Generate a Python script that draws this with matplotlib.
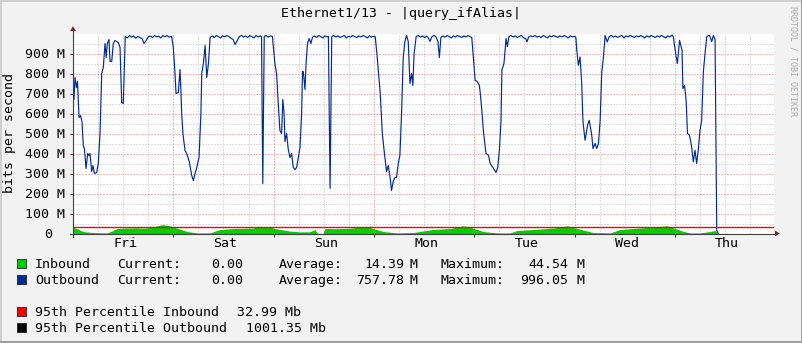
import matplotlib
matplotlib.use("Agg")
import matplotlib.pyplot as plt
from matplotlib.patches import Rectangle, Polygon
from matplotlib.transforms import ScaledTranslation, blended_transform_factory
import numpy as np

# ---------------- data ----------------
title = "Ethernet1/13 - |query_ifAlias|"
ylabel = "bits per second"
day_names = ["Fri", "Sat", "Sun", "Mon", "Tue", "Wed", "Thu"]
y_ticks = [0, 100, 200, 300, 400, 500, 600, 700, 800, 900]
y_tick_labels = ["0", "100 M", "200 M", "300 M", "400 M", "500 M", "600 M", "700 M", "800 M", "900 M"]

# outbound (Mbit/s) at hours since start of graph
out_hours = [
    0, 0.24, 0.48, 0.84, 1.08, 1.44, 1.8, 2.15, 2.46, 2.75, 3.11, 3.52, 3.83, 4.07, 4.47, 4.79, 5.1, 5.67,
    6.05, 6.46, 6.87, 7.25, 7.66, 7.94, 8.21, 8.61, 8.85, 9.26, 9.64, 10.05, 10.84, 11.25, 11.65, 12.04,
    12.5, 13, 13.5, 14, 14.5, 15, 15.5, 16, 16.5, 17, 17.5, 18, 18.5, 19, 19.5, 20, 20.5, 21, 21.5, 22,
    22.5, 23, 23.6,
    24.0, 24.4, 24.65, 25.2, 25.6, 25.84, 26.0, 26.3, 26.8, 27.2, 27.8, 28.4, 28.8, 29.2, 29.6, 30.15,
    30.6, 30.8, 31.2, 31.6, 32.0, 32.4, 32.8,
    33.3, 33.8, 34.3, 34.8, 35.3, 35.8, 36.3, 36.8, 37.3, 37.8, 38.3, 38.8, 39.3, 39.8, 40.3, 40.8, 41.3,
    41.8, 42.3, 42.8, 43.3, 43.8, 44.3, 44.8, 45.1, 45.4, 45.75, 46.2, 46.7, 47.2, 47.7,
    48.3, 48.7, 49.1, 49.5, 49.9, 50.2, 50.5, 50.7, 51.1, 51.5, 51.9, 52.3, 52.7, 53.1, 53.5, 53.9, 54.3,
    54.7, 54.9, 55.1, 55.5, 55.75, 56.1, 56.5, 56.9,
    57.3, 57.8, 58.3, 58.8, 59.3, 59.8, 60.3, 60.8, 61.1, 61.5, 61.9,
    62.4, 62.9, 63.4, 63.9, 64.4, 64.9, 65.4, 65.9, 66.4, 66.9, 67.4, 67.9, 68.4, 68.9, 69.4, 69.9, 70.4,
    70.9, 71.4, 71.9, 72.3,
    72.7, 73.5, 73.7, 74.0, 74.4, 75.0, 75.4, 75.8, 76.2, 76.6, 77.0, 77.4, 77.8, 78.2, 78.6, 79.0, 79.4,
    79.8, 80.2, 80.6, 81.0, 81.3, 81.6, 82.1,
    82.6, 83.1, 83.6, 84.1, 84.6, 85.1, 85.4, 85.8, 86.3, 86.8, 87.3, 87.65, 88.0, 88.5, 89, 89.5, 90,
    90.5, 91, 91.5, 92, 92.5, 93, 93.5, 94, 94.5, 95, 95.4,
    96.2, 96.7, 97.2, 97.4, 97.8, 98.2, 98.8, 99.4, 99.8, 100.6, 101.2, 101.6, 102.0, 102.4, 102.6, 103.1,
    103.6, 103.9, 104.3,
    104.8, 105.3, 105.8, 106.3, 106.8, 107.3, 107.8, 108.3, 108.6, 109.0, 109.5, 110, 110.5, 111, 111.5,
    112, 112.5, 113, 113.5, 114, 114.5, 115, 115.5, 116, 116.5, 117, 117.5, 118, 118.5, 119, 119.5, 120.0,
    120.3,
    120.5, 120.9, 121.3, 121.7, 122.0, 122.5, 123.1, 123.5, 124.1, 124.4, 124.9, 125.3, 125.7, 126.1,
    126.5, 126.9, 127.3, 127.8, 128.3,
    128.8, 129.3, 129.8, 130.3, 130.8, 131.3, 131.8, 132.3, 132.8, 133.3, 133.8, 134.3, 134.8, 135.3,
    135.8, 136.3, 136.8, 137.3, 137.8, 138.3, 138.8, 139.3, 139.8, 140.3, 140.8, 141.3, 141.8, 142.3,
    142.8, 143.3, 143.6,
    144.3, 144.6, 145.1, 145.7, 145.9, 146.3, 146.7, 147.0, 147.5, 148.0, 148.4, 148.8, 149.2, 149.6,
    150.0, 150.4, 150.8, 151.2, 151.6, 152.0, 152.3, 152.8, 153.2, 153.6, 154.0, 154.4,
]
out_mbps = [
    790, 670, 780, 730, 760, 580, 590, 560, 440, 420, 325, 400, 390, 400, 310, 340, 300, 305,
    350, 500, 800, 830, 950, 880, 950, 970, 860, 860, 950, 965, 955, 930, 655, 650,
    985, 978, 990, 982, 988, 976, 986, 980, 975, 950, 965, 984, 987, 980, 990, 983, 986, 978, 989, 984,
    990, 982, 985,
    930, 800, 700, 705, 820, 700, 600, 500, 415, 400, 360, 290, 265, 300, 330, 380,
    600, 800, 850, 940, 780, 850, 980,
    988, 980, 990, 984, 978, 988, 983, 990, 985, 976, 970, 945, 965, 985, 990, 982, 988,
    980, 990, 984, 978, 989, 983, 988, 985, 250, 985, 990, 982, 988, 985,
    850, 800, 650, 515, 500, 670, 600, 460, 500, 420, 380, 400, 330, 320, 330, 380, 430,
    600, 810, 810, 720, 850, 950, 975, 950,
    982, 988, 980, 990, 984, 978, 988, 983, 986, 225, 985,
    990, 982, 988, 980, 985, 990, 978, 986, 982, 990, 984, 980, 988, 983, 990, 985, 978,
    988, 982, 986, 984,
    900, 700, 620, 500, 420, 310, 340, 290, 215, 260, 280, 280, 350, 390, 600, 880, 960,
    990, 960, 750, 800, 740, 900, 985,
    990, 982, 988, 980, 986, 975, 960, 982, 990, 984, 960, 880, 980, 988, 982, 990, 984,
    978, 988, 982, 990, 985, 980, 988, 983, 990, 984, 980,
    766, 760, 741, 708, 616, 508, 400, 391, 350, 325, 305, 330, 416, 566, 816, 850,
    975, 935, 985,
    990, 982, 988, 980, 986, 990, 978, 975, 958, 982, 988, 984, 990, 982, 986,
    980, 990, 984, 978, 988, 983, 990, 985, 980, 988, 983, 990, 984, 978, 988, 983, 986,
    980,
    920, 841, 883, 750, 560, 466, 541, 566, 491, 425, 450, 425, 450, 560,
    808, 883, 990, 958, 985,
    990, 982, 988, 980, 986, 990, 978, 988, 983, 990, 985, 980, 988, 983,
    990, 984, 978, 988, 982, 990, 985, 980, 988, 983, 990, 984, 978, 988,
    983, 992, 985,
    883, 850, 966, 916, 725, 741, 658, 500, 491, 433, 358, 416, 350, 420,
    516, 566, 808, 900, 983, 990, 990, 960, 990, 970, 15, 0,
]

# inbound (Mbit/s) at hours since start of graph
in_hours = [
    0.1, 1.2, 2.4, 4.1, 5.7, 8.1, 9.3, 10.5, 12.4, 14.8, 17.2, 18.4, 20.1, 21.5, 23.2, 25.1, 27.3, 29.7,
    32.8, 34.0, 35.2, 38.3, 41.2, 43.1, 44.7, 45.7, 46.7, 48.3, 51.9, 54.4, 56.7, 57.9, 58.4, 59.8, 60.3,
    62.7, 66.3, 69.2, 71.1, 74.2, 77.5, 81.4, 86.1, 90.2, 93.3, 95.0, 98.1, 101.5, 104.6, 106.2, 111.7,
    115.3, 118.2, 120.1, 124.4, 128.5, 130.9, 134.0, 137.4, 142.2, 144.1, 146.1, 147.7, 150.1, 152.4,
    153.6, 154.1, 154.3,
]
in_mbps = [
    30, 22, 10, 6, 4, 3, 12, 25, 27, 28, 27, 30, 38, 44.5, 38, 25, 10, 3,
    3, 12, 20, 25, 26, 27, 35, 30, 35, 25, 12, 8, 9, 20, 2, 0, 25,
    24, 26, 35, 30, 10, 3, 5, 20, 25, 38, 32, 10, 3, 3, 15, 22,
    28, 38, 28, 5, 3, 20, 25, 30, 38, 25, 10, 3, 3, 10,
    15, 5, 0,
]

pct95_in = 32.99
pct95_out = 1001.35

legend_rows = [
    ("Inbound", "#00CF00", "0.00", "14.39", "44.54"),
    ("Outbound", "#002A97", "0.00", "757.78", "996.05"),
]
pct_rows = [
    ("95th Percentile Inbound", "#FF0000", "32.99 Mb"),
    ("95th Percentile Outbound", "#000000", "1001.35 Mb"),
]

# ---------------- layout ----------------
W, H = 803, 343
BG = "#F2F2F2"
MONO = "DejaVu Sans Mono"
FS = 9.5
hours_span = 167.7
YMAX = 1000

fig = plt.figure(figsize=(W / 100, H / 100), dpi=100, facecolor=BG)
L, R, T, B = 73, 774, 33.5, 233.5
ax = fig.add_axes([L / W, 1 - B / H, (R - L) / W, (B - T) / H])
ax.set_facecolor("white")
ax.set_xlim(0, hours_span)
ax.set_ylim(0, YMAX)
for s in ax.spines.values():
    s.set_visible(False)

# ticks
ax.set_xticks(np.arange(0, hours_span, 24))
ax.set_yticks(y_ticks)
ax.set_yticklabels(y_tick_labels, family=MONO, fontsize=FS)
ax.tick_params(axis="x", which="major", length=2.2, width=0.75, color="#404040",
               direction="out", labelbottom=False)
ax.tick_params(axis="y", which="major", length=2.2, width=0.75, color="#404040",
               direction="out", pad=3.6, labelcolor="#000000")
zero_lbl = ax.get_yticklabels()[0]
zero_lbl.set_transform(zero_lbl.get_transform() + ScaledTranslation(-0.13, 0, fig.dpi_scale_trans))

# grid: minor grey every 6 h / 50 M, major red every day / 100 M
DOT = (0, (1, 2))
GREY, RED = "#BEBEBE", "#E47C7C"
for h in np.arange(6, hours_span, 6):
    if h % 24:
        ax.axvline(h, color=GREY, linestyle=DOT, linewidth=0.72, zorder=0, snap=True)
for v in np.arange(50, YMAX, 100):
    ax.axhline(v, color=GREY, linestyle=DOT, linewidth=0.72, zorder=0, snap=True)
for h in np.arange(24, hours_span, 24):
    ax.axvline(h, color=RED, linestyle=DOT, linewidth=0.72, zorder=0, snap=True)
for v in y_ticks[1:]:
    ax.axhline(v, color=RED, linestyle=DOT, linewidth=0.72, zorder=0, snap=True)

# day labels at noon
tr = blended_transform_factory(ax.transData, ax.transAxes) + ScaledTranslation(0.02, 0, fig.dpi_scale_trans)
for i, d in enumerate(day_names):
    ax.text(12 + 24 * i, -(243.3 - B) / (B - T), d, transform=tr, ha="center", va="center",
            family=MONO, fontsize=FS, color="#000000")

# data
ax.fill_between(in_hours, 0, in_mbps, color="#00CF00", linewidth=0, zorder=2)
ax.plot(out_hours, out_mbps, color="#002A97", linewidth=0.85, zorder=3)
ax.axhline(pct95_in, color="#FF0000", linewidth=1.0, zorder=4)
if pct95_out <= YMAX:
    ax.axhline(pct95_out, color="#000000", linewidth=1.0, zorder=4)

# overlay in pixel coordinates
ov = fig.add_axes([0, 0, 1, 1])
ov.set_xlim(0, W)
ov.set_ylim(H, 0)
ov.axis("off")
ov.patch.set_alpha(0)

# axes lines + arrows
ov.plot([70, 776], [B, B], color="#404040", linewidth=0.8)
ov.plot([L, L], [B + 3, 30], color="#404040", linewidth=0.8)
ov.add_patch(Polygon([[775, B - 2.8], [775, B + 2.8], [779.8, B]], closed=True, color="#8B1A1A", lw=0))
ov.add_patch(Polygon([[L - 2.8, 31], [L + 2.8, 31], [L, 26.2]], closed=True, color="#8B1A1A", lw=0))

# frame
ov.add_patch(Rectangle((0, 0), W, 2, color="#CFCFCF", lw=0))
ov.add_patch(Rectangle((0, 0), 2, H, color="#CFCFCF", lw=0))
ov.add_patch(Rectangle((0, H - 2), W, 2, color="#9E9E9E", lw=0))
ov.add_patch(Rectangle((W - 2, 0), 2, H, color="#9E9E9E", lw=0))

# title, y label, watermark
ov.text(401, 13.3, title, ha="center", va="center", family=MONO, fontsize=FS, color="#000000")
ov.text(10, 133.3, ylabel, ha="center", va="center", rotation=90, family=MONO, fontsize=FS,
        color="#000000")
ov.text(793, 6, "RRDTOOL / TOBI OETIKER", ha="center", va="top", rotation=270, family=MONO,
        fontsize=6, color="#ABABAB")

# legend
row_base = [268.3, 284.3]
for (name, col, cur, avg, mx), yb in zip(legend_rows, row_base):
    ov.add_patch(Rectangle((17.5, yb - 9), 9, 9, facecolor=col, edgecolor="#222222", lw=0.6))
    kw = dict(va="baseline", family=MONO, fontsize=FS, color="#000000")
    ov.text(35, yb, name, ha="left", **kw)
    ov.text(116.7, yb, "Current:", ha="left", **kw)
    ov.text(243.3, yb, cur, ha="right", **kw)
    ov.text(278.3, yb, "Average:", ha="left", **kw)
    ov.text(404, yb, avg, ha="right", **kw)
    ov.text(409.5, yb, "M", ha="left", **kw)
    ov.text(440.7, yb, "Maximum:", ha="left", **kw)
    ov.text(568.3, yb, mx, ha="right", **kw)
    ov.text(576.7, yb, "M", ha="left", **kw)

pct_base = [315.7, 331.7]
pct_val_x = [236.7, 245.7]
for (name, col, val), yb, vx in zip(pct_rows, pct_base, pct_val_x):
    ov.add_patch(Rectangle((17.5, yb - 9), 9, 9, facecolor=col, edgecolor="#222222", lw=0.6))
    kw = dict(va="baseline", family=MONO, fontsize=FS, color="#000000")
    ov.text(35, yb, name, ha="left", **kw)
    ov.text(vx, yb, val, ha="left", **kw)

fig.savefig("out.png", dpi=100, facecolor=BG)
